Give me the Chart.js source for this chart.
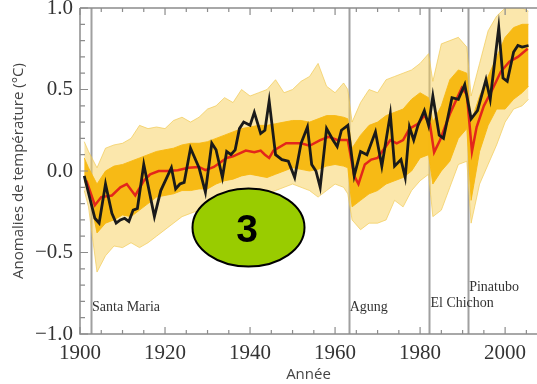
<!DOCTYPE html>
<html lang="fr">
<head>
<meta charset="utf-8">
<script src="https://cdn.jsdelivr.net/npm/chart.js@4.4.0/dist/chart.umd.min.js"></script>
<style>
  html, body { margin: 0; padding: 0; background: #fff; }
  #wrap { width: 537px; height: 384px; position: relative; }
</style>
</head>
<body>
<div id="wrap"><canvas id="anomalyChart" width="537" height="384"></canvas></div>
<script>
// ticks
const xTicks = [1900, 1905, 1910, 1915, 1920, 1925, 1930, 1935, 1940, 1945, 1950, 1955, 1960, 1965, 1970, 1975, 1980, 1985, 1990, 1995, 2000, 2005];
const xLabelYears = [1900, 1920, 1940, 1960, 1980, 2000];
const yTicks = [-1.0, -0.9, -0.8, -0.7, -0.6, -0.5, -0.4, -0.3, -0.2, -0.1, 0.0, 0.1, 0.2, 0.3, 0.4, 0.5, 0.6, 0.7, 0.8, 0.9, 1.0];
const yLabelValues = [-1.0, -0.5, 0.0, 0.5, 1.0];

// volcanic eruptions
const volcanoYears = [1902.6, 1963.2, 1982.2, 1991.3];
const volcanoNames = ["Santa Maria", "Agung", "El Chichon", "Pinatubo"];

// observed anomalies (black)
const obsYears = [1901, 1903.5, 1904.5, 1906, 1907.5, 1908.5, 1909.5, 1910.5, 1911.5, 1912.5, 1913.5, 1915, 1917.5, 1919, 1921.5, 1922.5, 1923.5, 1924.5, 1926, 1928, 1929.5,
  1931, 1932, 1933.5, 1934.5, 1935.5, 1936.5, 1937.5, 1938.5, 1940, 1941, 1942.5, 1943.5, 1944.5, 1946, 1947.5, 1949, 1950.5, 1952, 1953.5, 1954.5, 1955.5, 1956.5, 1958, 1959.5,
  1960.5, 1961.5, 1963, 1964.5, 1966, 1967.5, 1969.5, 1971, 1973, 1974, 1975.5, 1976.5, 1977.5, 1978.5, 1979.5, 1981, 1982, 1983, 1984.5, 1985.5, 1987.5, 1989, 1990.5,
  1992, 1993.5, 1995.5, 1996.5, 1998.5, 1999.5, 2000.5, 2002, 2003, 2004, 2005.5];
const obsValues = [-0.03, -0.29, -0.32, -0.08, -0.26, -0.32, -0.30, -0.29, -0.31, -0.24, -0.23, 0.04, -0.28, -0.12, 0.02, -0.11, -0.08, -0.07, 0.14, 0.02, -0.13,
  0.17, 0.13, -0.04, 0.12, 0.10, 0.13, 0.26, 0.30, 0.28, 0.36, 0.23, 0.25, 0.43, 0.10, 0.07, 0.06, -0.04, 0.17, 0.27, 0.04, 0.00, -0.10, 0.26, 0.19,
  0.15, 0.25, 0.28, -0.03, 0.12, 0.10, 0.24, 0.03, 0.35, 0.03, 0.07, -0.04, 0.27, 0.19, 0.28, 0.37, 0.28, 0.46, 0.22, 0.20, 0.45, 0.44, 0.53,
  0.32, 0.37, 0.56, 0.44, 0.88, 0.57, 0.55, 0.73, 0.77, 0.76, 0.77];

// ensemble mean (red)
const meanYears = [1901.5, 1903.5, 1905, 1907.5, 1909.5, 1911, 1913, 1915, 1916.5, 1918.5, 1920.5, 1923, 1925.5, 1928, 1929.5, 1931.5, 1934.5, 1936, 1939, 1941, 1942.5,
  1943.5, 1944.5, 1945.5, 1948.5, 1952, 1954, 1956.5, 1958.5, 1960.5, 1963, 1964.5, 1965.5, 1967, 1968.5, 1970, 1971.5, 1973, 1974.5, 1976, 1977.5, 1979.5,
  1981, 1982.3, 1983.3, 1984.7, 1987, 1989.8, 1991, 1992.2, 1993.3, 1995, 1997, 1999, 2001, 2003, 2005.3];
const meanValues = [-0.06, -0.21, -0.16, -0.15, -0.10, -0.08, -0.15, -0.06, -0.02, 0.00, 0.00, 0.005, 0.02, 0.025, 0.005, 0.025, 0.08, 0.09, 0.125, 0.115, 0.125,
  0.10, 0.08, 0.125, 0.17, 0.17, 0.155, 0.19, 0.21, 0.19, 0.19, -0.03, -0.08, 0.04, 0.07, 0.08, 0.135, 0.19, 0.17, 0.19, 0.26, 0.29,
  0.34, 0.29, 0.115, 0.19, 0.35, 0.51, 0.47, 0.12, 0.27, 0.40, 0.50, 0.61, 0.67, 0.70, 0.75];

// model runs spread (yellow): outer and dense inner envelopes
const bandYears = [1901, 1902, 1904, 1906, 1908, 1910, 1912, 1914, 1916, 1918, 1920, 1922, 1924, 1926, 1928, 1930, 1932, 1934, 1936, 1938, 1940, 1942, 1944, 1946,
  1948, 1950, 1952, 1954, 1956, 1958, 1960, 1962, 1963, 1964, 1966, 1968, 1970, 1972, 1974, 1976, 1978, 1980, 1982, 1983, 1985, 1987, 1989, 1991, 1992,
  1994, 1996, 1998, 2000, 2002, 2004, 2005.5];
const outerHigh = [0.18, 0.12, 0.02, 0.14, 0.16, 0.17, 0.20, 0.28, 0.26, 0.27, 0.26, 0.31, 0.33, 0.30, 0.33, 0.38, 0.40, 0.45, 0.42, 0.50, 0.46, 0.48, 0.50, 0.56,
  0.48, 0.50, 0.55, 0.58, 0.66, 0.52, 0.48, 0.54, 0.50, 0.30, 0.42, 0.50, 0.48, 0.56, 0.58, 0.60, 0.62, 0.66, 0.72, 0.55, 0.78, 0.80, 0.82, 0.76, 0.46,
  0.66, 0.86, 0.95, 1.00, 1.00, 1.00, 0.98];
const innerHigh = [0.08, 0.02, -0.08, 0.00, 0.03, 0.04, 0.06, 0.08, 0.10, 0.12, 0.13, 0.14, 0.16, 0.17, 0.17, 0.18, 0.20, 0.22, 0.24, 0.26, 0.27, 0.28, 0.28, 0.29,
  0.30, 0.31, 0.31, 0.30, 0.32, 0.34, 0.34, 0.33, 0.32, 0.14, 0.22, 0.28, 0.30, 0.34, 0.36, 0.38, 0.44, 0.48, 0.45, 0.30, 0.40, 0.56, 0.62, 0.60, 0.30,
  0.46, 0.58, 0.70, 0.82, 0.88, 0.90, 0.90];
const innerLow = [-0.06, -0.12, -0.38, -0.32, -0.30, -0.27, -0.28, -0.24, -0.20, -0.16, -0.15, -0.14, -0.12, -0.12, -0.11, -0.11, -0.08, -0.06, -0.05, -0.03, -0.02, -0.03, -0.04, -0.02,
  0.00, 0.02, 0.01, 0.00, 0.01, 0.03, 0.04, 0.03, 0.02, -0.22, -0.18, -0.14, -0.12, -0.08, -0.06, -0.04, 0.00, 0.08, 0.10, -0.08, 0.00, 0.06, 0.20, 0.26, -0.18,
  0.12, 0.28, 0.38, 0.38, 0.44, 0.48, 0.52];
const outerLow = [-0.12, -0.22, -0.62, -0.52, -0.46, -0.47, -0.44, -0.47, -0.44, -0.40, -0.36, -0.32, -0.28, -0.26, -0.24, -0.22, -0.18, -0.16, -0.14, -0.12, -0.12, -0.14, -0.14, -0.12,
  -0.10, -0.08, -0.10, -0.12, -0.16, -0.12, -0.08, -0.10, -0.14, -0.30, -0.36, -0.32, -0.32, -0.30, -0.18, -0.22, -0.12, -0.06, -0.02, -0.28, -0.24, -0.10, 0.04, 0.06, -0.32,
  -0.08, 0.04, 0.16, 0.30, 0.38, 0.40, 0.44];

const pts = (xs, ys) => xs.map((x, i) => ({ x, y: ys[i] }));

const SERIF = "'Liberation Serif', 'DejaVu Serif', serif";
const SANS = "'Open Sans', 'Noto Sans', sans-serif";
const AXIS_GRAY = "#8c8c8c";

const isMajorY = (v) => yLabelValues.some((m) => Math.abs(m - v) < 1e-6);
const isMajorX = (v) => xLabelYears.includes(v);

const framePlugin = {
  id: "frame",
  beforeDatasetsDraw(chart) {
    const { ctx, chartArea: a, scales } = chart;
    ctx.save();
    ctx.strokeStyle = "#a0a0a0";
    ctx.lineWidth = 2;
    volcanoYears.forEach((yr) => {
      const px = Math.round(scales.x.getPixelForValue(yr)) + 0.5;
      ctx.beginPath();
      ctx.moveTo(px, a.top);
      ctx.lineTo(px, a.bottom);
      ctx.stroke();
    });
    ctx.restore();
  },
  afterDatasetsDraw(chart) {
    const { ctx, chartArea: a, scales } = chart;
    ctx.save();
    ctx.strokeStyle = AXIS_GRAY;
    ctx.lineWidth = 1.5;
    // frame: left, bottom, top
    ctx.beginPath();
    ctx.moveTo(a.left, a.top);
    ctx.lineTo(a.right, a.top);
    ctx.moveTo(a.left, a.top);
    ctx.lineTo(a.left, a.bottom);
    ctx.lineTo(a.right, a.bottom);
    ctx.stroke();

    ctx.lineWidth = 1.2;
    ctx.beginPath();
    scales.x.ticks.forEach((t) => {
      const px = scales.x.getPixelForValue(t.value);
      const len = isMajorX(t.value) ? 7 : 4;
      ctx.moveTo(px, a.bottom);
      ctx.lineTo(px, a.bottom - len);
      ctx.moveTo(px, a.top);
      ctx.lineTo(px, a.top + len);
    });
    scales.y.ticks.forEach((t) => {
      const py = scales.y.getPixelForValue(t.value);
      const len = isMajorY(t.value) ? 8 : 5;
      ctx.moveTo(a.left, py);
      ctx.lineTo(a.left + len, py);
    });
    ctx.stroke();

    // eruption names
    ctx.fillStyle = "#333";
    ctx.font = "14px " + SERIF;
    ctx.textBaseline = "middle";
    const labelY = [307, 307, 303, 287];
    volcanoNames.forEach((name, i) => {
      const px = scales.x.getPixelForValue(volcanoYears[i]) + 1;
      ctx.fillText(name, px, labelY[i]);
    });
    ctx.restore();
  },
  afterDraw(chart) {
    const { ctx } = chart;
    ctx.save();
    ctx.beginPath();
    ctx.ellipse(248.5, 227.5, 56, 39, 0, 0, Math.PI * 2);
    ctx.fillStyle = "#99cc00";
    ctx.fill();
    ctx.lineWidth = 2;
    ctx.strokeStyle = "#000";
    ctx.stroke();
    ctx.fillStyle = "#000";
    ctx.font = "bold 39px 'Liberation Sans', Arial, sans-serif";
    ctx.textAlign = "center";
    ctx.textBaseline = "middle";
    ctx.fillText("3", 247, 231);
    ctx.restore();
  },
};

const ctx = document.getElementById("anomalyChart");
new Chart(ctx, {
  type: "line",
  data: {
    datasets: [
      {
        label: "outerLow",
        order: 5,
        data: pts(bandYears, outerLow),
        borderColor: "rgba(240, 200, 80, 0.85)",
        borderWidth: 0.8,
        pointRadius: 0,
        fill: false,
      },
      {
        label: "outerHigh",
        order: 4,
        data: pts(bandYears, outerHigh),
        borderColor: "rgba(240, 200, 80, 0.85)",
        backgroundColor: "rgba(248, 208, 90, 0.5)",
        borderWidth: 0.8,
        pointRadius: 0,
        fill: "-1",
      },
      {
        label: "innerLow",
        order: 3,
        data: pts(bandYears, innerLow),
        borderColor: "rgba(247, 185, 20, 0.9)",
        borderWidth: 1,
        pointRadius: 0,
        fill: false,
      },
      {
        label: "innerHigh",
        order: 2,
        data: pts(bandYears, innerHigh),
        borderColor: "rgba(247, 185, 20, 0.9)",
        backgroundColor: "rgba(248, 184, 14, 0.95)",
        borderWidth: 1,
        pointRadius: 0,
        fill: "-1",
      },
      {
        label: "Moyenne des modèles",
        order: 1,
        data: pts(meanYears, meanValues),
        borderColor: "#e3261b",
        borderWidth: 2.5,
        pointRadius: 0,
        fill: false,
      },
      {
        label: "Observations",
        order: 0,
        data: pts(obsYears, obsValues),
        borderColor: "#1a1a1a",
        borderWidth: 2.8,
        borderJoinStyle: "miter",
        pointRadius: 0,
        fill: false,
      },
    ],
  },
  options: {
    responsive: false,
    animation: false,
    events: [],
    layout: { padding: { top: 8, right: 0, bottom: 0, left: 0 } },
    plugins: { legend: { display: false }, tooltip: { enabled: false } },
    scales: {
      x: {
        type: "linear",
        min: 1900,
        max: 2007.5,
        afterBuildTicks: (s) => { s.ticks = xTicks.map((v) => ({ value: v })); },
        afterFit: (s) => { s.height = 50; s.paddingLeft = 0; s.paddingRight = 0; },
        grid: { drawOnChartArea: false, drawTicks: false },
        border: { display: false },
        ticks: {
          autoSkip: false,
          maxRotation: 0,
          padding: 7,
          color: "#333",
          font: { family: SERIF, size: 21 },
          callback: (v) => (isMajorX(v) ? String(v) : ""),
        },
        title: {
          display: true,
          text: "Année",
          color: "#444",
          font: { family: SANS, size: 15 },
          padding: { top: 0, bottom: 0 },
        },
      },
      y: {
        min: -1.0,
        max: 1.0,
        afterBuildTicks: (s) => { s.ticks = yTicks.map((v) => ({ value: v })); },
        afterFit: (s) => { s.width = 80; s.paddingTop = 0; s.paddingBottom = 0; },
        grid: { drawOnChartArea: false, drawTicks: false },
        border: { display: false },
        ticks: {
          autoSkip: false,
          padding: 7,
          color: "#333",
          font: { family: SERIF, size: 21 },
          callback: (v) => (isMajorY(v) ? v.toFixed(1).replace("-", "\u2212") : ""),
        },
        title: {
          display: true,
          text: "Anomalies de température (°C)",
          color: "#444",
          font: { family: SANS, size: 15 },
          padding: { top: 10, bottom: 0 },
        },
      },
    },
  },
  plugins: [framePlugin],
});
</script>
</body>
</html>
